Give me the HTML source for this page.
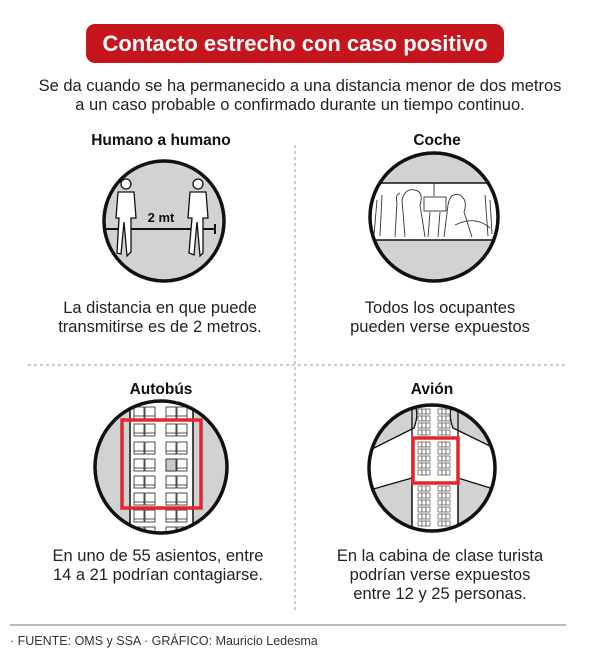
<!DOCTYPE html>
<html><head><meta charset="utf-8"><style>
html,body{margin:0;padding:0;background:#fff;width:600px;height:659px;overflow:hidden}
text{font-family:"Liberation Sans","DejaVu Sans",sans-serif}
</style></head><body>
<svg width="600" height="659" viewBox="0 0 600 659" xmlns="http://www.w3.org/2000/svg">
<defs>
<g id="seat"><rect x="0" y="0" width="10" height="12" fill="#fff" stroke="#222" stroke-width="0.8"/><line x1="0" y1="9" x2="10" y2="9" stroke="#222" stroke-width="0.8"/></g>
<g id="ps"><rect x="0" y="0" width="4" height="5" fill="#fff" stroke="#333" stroke-width="0.6"/><rect x="4" y="0" width="4" height="5" fill="#fff" stroke="#333" stroke-width="0.6"/><rect x="8" y="0" width="4" height="5" fill="#fff" stroke="#333" stroke-width="0.6"/></g>
<clipPath id="cb"><circle cx="161" cy="467" r="66"/></clipPath>
<clipPath id="cp"><circle cx="432" cy="468" r="63"/></clipPath>
<clipPath id="cc"><circle cx="434" cy="217" r="64"/></clipPath>
</defs>
<rect x="86" y="24" width="418" height="39" rx="9" fill="#c4161c"/>
<text x="295" y="51" text-anchor="middle" font-size="22" font-weight="bold" fill="#fff">Contacto estrecho con caso positivo</text>
<text x="300" y="91" text-anchor="middle" font-size="16.5" fill="#222">Se da cuando se ha permanecido a una distancia menor de dos metros</text>
<text x="300" y="110" text-anchor="middle" font-size="16.5" fill="#222">a un caso probable o confirmado durante un tiempo continuo.</text>
<line x1="295" y1="145" x2="295" y2="612" stroke="#bbb" stroke-width="1.5" stroke-dasharray="3,3"/>
<line x1="28" y1="365" x2="565" y2="365" stroke="#bbb" stroke-width="1.5" stroke-dasharray="3,3"/>
<g font-weight="bold" font-size="15.5" fill="#111" text-anchor="middle">
<text x="161" y="145">Humano a humano</text><text x="437" y="145">Coche</text>
<text x="161" y="394">Autobús</text><text x="432" y="394">Avión</text></g>
<!-- humano -->
<circle cx="164" cy="221" r="60" fill="#d1d2d4" stroke="#111" stroke-width="3.5"/>
<line x1="105" y1="229" x2="215" y2="229" stroke="#111" stroke-width="2"/>
<line x1="105" y1="224" x2="105" y2="234" stroke="#111" stroke-width="2"/>
<line x1="215" y1="224" x2="215" y2="234" stroke="#111" stroke-width="2"/>
<text x="161" y="222" text-anchor="middle" font-size="13" font-weight="bold" fill="#111">2 mt</text>
<g fill="#fff" stroke="#111" stroke-width="1.3">
<circle cx="126" cy="184" r="5"/><path d="M118 192 L134 192 L136 218 L131 218 L131 252 L127 256 L124 222 L121 254 L117 253 L119 218 L116 218 Z"/>
<circle cx="198" cy="184" r="5"/><path d="M190 192 L206 192 L208 218 L203 218 L203 253 L200 256 L197 222 L194 255 L189 253 L192 218 L188 218 Z"/>
</g>
<!-- coche -->
<circle cx="434" cy="217" r="64" fill="#d1d2d4"/>
<g clip-path="url(#cc)">
<path d="M370 187 L382 183 L487 183 L499 187 L500 240 L370 240 Z" fill="#fff" stroke="#111" stroke-width="1.5"/>
<g fill="none" stroke="#333" stroke-width="0.9">
<path d="M405 237 L402 200 Q405 188 415 190 Q424 192 420 205 L425 237"/><path d="M395 237 L397 202 Q395 195 400 193"/>
<path d="M444 237 L448 205 Q450 192 460 195 Q468 200 464 212 L472 237"/><path d="M455 225 Q475 215 490 228"/>
<rect x="424" y="197" width="22" height="14"/><line x1="434" y1="183" x2="434" y2="196"/>
<path d="M377 200 L374 235 M382 195 L380 236 M485 195 L488 236 M490 200 L492 234 M430 212 L428 237 M440 212 L438 237"/>
</g></g>
<circle cx="434" cy="217" r="64" fill="none" stroke="#111" stroke-width="3.5"/>
<g font-size="16.5" fill="#222" text-anchor="middle">
<text x="160" y="313">La distancia en que puede</text><text x="160" y="332">transmitirse es de 2 metros.</text>
<text x="440" y="313">Todos los ocupantes</text><text x="440" y="332">pueden verse expuestos</text>
<text x="158" y="561">En uno de 55 asientos, entre</text><text x="158" y="580">14 a 21 podrían contagiarse.</text>
<text x="440" y="561">En la cabina de clase turista</text><text x="440" y="580">podrían verse expuestos</text><text x="440" y="599">entre 12 y 25 personas.</text>
</g>
<!-- bus -->
<circle cx="161" cy="467" r="66" fill="#d1d2d4"/>
<g clip-path="url(#cb)">
<rect x="130" y="380" width="63" height="170" fill="#fff" stroke="#111" stroke-width="1.5"/>
<g transform="translate(-1,2)">
<use href="#seat" x="135" y="405"/><use href="#seat" x="146" y="405"/><use href="#seat" x="167" y="405"/><use href="#seat" x="178" y="405"/>
<use href="#seat" x="135" y="422"/><use href="#seat" x="146" y="422"/><use href="#seat" x="167" y="422"/><use href="#seat" x="178" y="422"/>
<use href="#seat" x="135" y="440"/><use href="#seat" x="146" y="440"/><use href="#seat" x="167" y="440"/><use href="#seat" x="178" y="440"/>
<use href="#seat" x="135" y="457"/><use href="#seat" x="146" y="457"/><use href="#seat" x="167" y="457"/><use href="#seat" x="178" y="457"/>
<use href="#seat" x="135" y="474"/><use href="#seat" x="146" y="474"/><use href="#seat" x="167" y="474"/><use href="#seat" x="178" y="474"/>
<use href="#seat" x="135" y="491"/><use href="#seat" x="146" y="491"/><use href="#seat" x="167" y="491"/><use href="#seat" x="178" y="491"/>
<use href="#seat" x="135" y="508"/><use href="#seat" x="146" y="508"/><use href="#seat" x="167" y="508"/><use href="#seat" x="178" y="508"/>
<use href="#seat" x="135" y="525"/><use href="#seat" x="146" y="525"/><use href="#seat" x="167" y="525"/><use href="#seat" x="178" y="525"/>
<rect x="167" y="457" width="10" height="12" fill="#c8c8c8" stroke="#222" stroke-width="0.8"/>
</g></g>
<rect x="122" y="420" width="79" height="88" fill="none" stroke="#e3262d" stroke-width="3.5"/>
<circle cx="161" cy="467" r="66" fill="none" stroke="#111" stroke-width="3.5"/>
<!-- plane -->
<circle cx="432" cy="468" r="63" fill="#fff"/>
<g clip-path="url(#cp)">
<path d="M380 400 L415 405 Q419 415 414 428 L370 450 L360 410 Z" fill="#d1d2d4" stroke="#111" stroke-width="1.3"/>
<path d="M484 400 L452 405 Q448 415 453 428 L498 450 L505 410 Z" fill="#d1d2d4" stroke="#111" stroke-width="1.3"/>
<path d="M370 490 L412 478 L412 540 L370 540 Z" fill="#d1d2d4" stroke="#111" stroke-width="1.3"/>
<path d="M497 490 L458 478 L458 540 L497 540 Z" fill="#d1d2d4" stroke="#111" stroke-width="1.3"/>
<line x1="412" y1="400" x2="412" y2="540" stroke="#111" stroke-width="1.3"/>
<line x1="458" y1="400" x2="458" y2="540" stroke="#111" stroke-width="1.3"/>
<g>
<use href="#ps" x="418" y="409"/><use href="#ps" x="438" y="409"/><use href="#ps" x="418" y="416"/><use href="#ps" x="438" y="416"/>
<use href="#ps" x="418" y="423"/><use href="#ps" x="438" y="423"/><use href="#ps" x="418" y="430"/><use href="#ps" x="438" y="430"/>
<use href="#ps" x="418" y="442"/><use href="#ps" x="438" y="442"/><use href="#ps" x="418" y="449"/><use href="#ps" x="438" y="449"/>
<use href="#ps" x="418" y="456"/><use href="#ps" x="438" y="456"/><use href="#ps" x="418" y="463"/><use href="#ps" x="438" y="463"/>
<use href="#ps" x="418" y="470"/><use href="#ps" x="438" y="470"/>
<use href="#ps" x="418" y="486"/><use href="#ps" x="438" y="486"/><use href="#ps" x="418" y="493"/><use href="#ps" x="438" y="493"/>
<use href="#ps" x="418" y="500"/><use href="#ps" x="438" y="500"/><use href="#ps" x="418" y="507"/><use href="#ps" x="438" y="507"/>
<use href="#ps" x="418" y="514"/><use href="#ps" x="438" y="514"/><use href="#ps" x="418" y="521"/><use href="#ps" x="438" y="521"/>
</g></g>
<rect x="413" y="438" width="45" height="45" fill="none" stroke="#e3262d" stroke-width="3.5"/>
<circle cx="432" cy="468" r="63" fill="none" stroke="#111" stroke-width="3.5"/>
<!-- footer -->
<line x1="10" y1="625" x2="566" y2="625" stroke="#777" stroke-width="1"/>
<text x="10" y="645" font-size="12.5" fill="#333">· FUENTE: OMS y SSA · GRÁFICO: Mauricio Ledesma</text>
</svg>
</body></html>
